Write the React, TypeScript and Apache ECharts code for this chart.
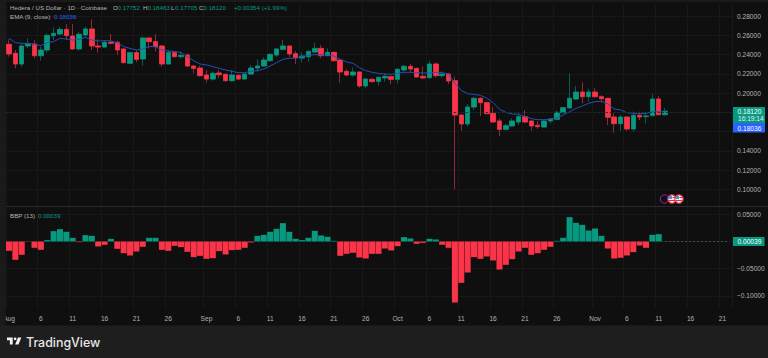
import React, { useEffect, useRef } from "react";
import * as echarts from "echarts";

const monthNames = ["Aug", "Sep", "Oct", "Nov"];
const monthLengths = [31, 30, 31, 22];
const dayLabels: string[] = [];
monthNames.forEach((m, k) => {
  for (let d = 1; d <= monthLengths[k]; d++) dayLabels.push(d === 1 ? m : String(d));
});
const tickIndexes = [0, 5, 10, 15, 20, 25, 31, 36, 41, 46, 51, 56, 61, 66, 71, 76, 81, 86, 92, 97, 102, 107, 112];

const opens = [
  .2506, .2413, .2302, .2489, .2509, .2388, .2447, .2596, .2613, .2661, .2592, .2458, .2603, .2665, .2489, .2478, .2527, .2527, .2458, .2309,
  .2420, .2354, .2572, .2534, .2489, .2302, .2420, .2378, .2395, .2281, .2260, .2188, .2146, .2209, .2195, .2129, .2184, .2146, .2198, .2260,
  .2281, .2336, .2395, .2454, .2489, .2409, .2364, .2378, .2426, .2464, .2388, .2423, .2343, .2226, .2188, .2219, .2074, .2143, .2122, .2157,
  .2171, .2143, .2240, .2278, .2257, .2174, .2160, .2302, .2181, .2198, .2129, .1773, .1680, .1856, .1946, .1901, .1790, .1711, .1624, .1659,
  .1700, .1756, .1711, .1666, .1648, .1711, .1728, .1797, .1846, .1939, .2011, .1963, .2011, .1963, .1946, .1752, .1683, .1752, .1628, .1769,
  .1756, .1766, .1939, .17752,
];
const closes = [
  .2406, .2302, .2489, .2509, .2388, .2447, .2599, .2620, .2661, .2596, .2458, .2610, .2665, .2489, .2478, .2527, .2516, .2447, .2316, .2420,
  .2350, .2572, .2534, .2482, .2302, .2420, .2378, .2392, .2281, .2257, .2181, .2146, .2205, .2191, .2129, .2188, .2146, .2198, .2260, .2281,
  .2343, .2402, .2458, .2489, .2406, .2364, .2385, .2433, .2464, .2388, .2423, .2336, .2219, .2188, .2219, .2074, .2146, .2119, .2164, .2174,
  .2143, .2247, .2278, .2250, .2167, .2157, .2302, .2181, .2198, .2126, .1773, .1680, .1856, .1946, .1901, .1787, .1700, .1624, .1662, .1711,
  .1756, .1700, .1659, .1652, .1711, .1731, .1801, .1849, .1946, .2011, .1963, .2011, .1963, .1942, .1749, .1683, .1752, .1628, .1769, .1752,
  .1763, .1939, .17752, .18120,
];
const lows = [
  .2378, .2257, .2274, .2464, .2361, .2336, .2420, .2551, .2603, .2551, .2447, .2440, .2585, .2447, .2420, .2475, .2506, .2395, .2309, .2302,
  .2319, .2285, .2464, .2430, .2274, .2299, .2371, .2361, .2274, .2205, .2171, .2108, .2129, .2153, .2119, .2119, .2136, .2143, .2188, .2222,
  .2274, .2326, .2378, .2447, .2371, .2302, .2316, .2326, .2420, .2361, .2385, .2330, .2108, .2181, .2171, .2056, .2050, .2112, .2077, .2119,
  .2091, .2101, .2205, .2212, .2160, .2146, .2153, .2160, .2160, .2094, .1002, .1607, .1652, .1825, .1763, .1780, .1697, .1555, .1617, .1652,
  .1669, .1693, .1610, .1628, .1645, .1686, .1721, .1790, .1842, .1928, .1894, .1911, .1956, .1904, .1669, .1590, .1607, .1610, .1600, .1721,
  .1686, .1763, .1773, .17705,
];
const highs = [
  .2558, .2447, .2516, .2568, .2551, .2482, .2620, .2682, .2689, .2717, .2717, .2637, .2689, .2765, .2558, .2551, .2613, .2544, .2464, .2430,
  .2447, .2585, .2579, .2613, .2499, .2447, .2430, .2430, .2413, .2292, .2285, .2240, .2222, .2240, .2205, .2240, .2198, .2205, .2292, .2350,
  .2371, .2413, .2464, .2551, .2492, .2437, .2420, .2447, .2523, .2499, .2464, .2430, .2350, .2247, .2267, .2222, .2153, .2153, .2171, .2205,
  .2181, .2257, .2292, .2302, .2264, .2274, .2336, .2316, .2226, .2212, .2171, .1780, .1887, .1963, .1956, .1911, .1859, .1738, .1680, .1738,
  .1807, .1825, .1714, .1711, .1721, .1738, .1818, .1852, .2205, .2074, .2112, .2043, .2050, .1980, .1953, .1790, .1773, .1756, .1807, .1807,
  .1801, .1991, .1970, .18463,
];
const ema = [
  .2568, .2523, .2516, .2516, .2506, .2492, .2523, .2534, .2568, .2561, .2551, .2558, .2579, .2551, .2541, .2544, .2541, .2523, .2482, .2464,
  .2447, .2458, .2482, .2482, .2447, .2437, .2430, .2423, .2378, .2336, .2302, .2292, .2274, .2257, .2240, .2226, .2212, .2212, .2226, .2233,
  .2250, .2281, .2316, .2350, .2361, .2364, .2378, .2392, .2399, .2399, .2399, .2385, .2350, .2323, .2309, .2264, .2233, .2216, .2205, .2198,
  .2195, .2205, .2216, .2216, .2212, .2209, .2209, .2216, .2212, .2198, .2101, .2029, .1994, .1987, .1977, .1946, .1901, .1832, .1801, .1783,
  .1780, .1756, .1735, .1724, .1724, .1731, .1742, .1773, .1807, .1842, .1866, .1894, .1911, .1915, .1887, .1835, .1825, .1797, .1790, .1787,
  .1790, .1807, .1807, .18036,
];
const bbp = [
  -.0172, -.0337, -.0245, -.0005, -.0116, -.0153, .0025, .0190, .0227, .0178, .0067, -.0012, .0116, .0104, -.0092, -.0061, .0049, -.0135, -.0215, -.0257,
  -.0184, -.0098, .0067, .0067, -.0153, -.0172, -.0080, -.0104, -.0190, -.0288, -.0264, -.0319, -.0306, -.0178, -.0239, -.0159, -.0153, -.0116, -.0018, .0104,
  .0122, .0178, .0233, .0337, .0178, .0049, .0025, .0067, .0196, .0110, .0086, .0012, -.0264, -.0227, -.0208, -.0294, -.0313, -.0227, -.0227, -.0129,
  -.0165, -.0086, .0080, .0055, -.0043, -.0025, .0049, .0037, -.0061, -.0116, -.1122, -.0760, -.0570, -.0288, -.0319, -.0276, -.0349, -.0515, -.0429, -.0325,
  -.0184, -.0116, -.0245, -.0215, -.0153, -.0098, .0012, .0067, .0447, .0343, .0306, .0202, .0239, .0104, -.0129, -.0313, -.0300, -.0257, -.0196, -.0074,
  -.0116, .0122, .0135, .00039,
];
const priceGridTicks = [0.1, 0.12, 0.14, 0.16, 0.18, 0.2, 0.22, 0.24, 0.26, 0.28];
const priceLabelTicks = [0.1, 0.12, 0.14, 0.2, 0.22, 0.24, 0.26, 0.28];
const bbpGridTicks = [0.05, 0, -0.05, -0.1];
const bbpLabelTicks = [0.05, -0.05, -0.1];
const lastPrice = 0.1812;
const lastBbp = 0.00039;

const UP = "#089981";
const DOWN = "#fb3449";
const UP_WICK = "#0b5a4d";
const DOWN_WICK = "#8c2a35";
const BG = "#0f0f0f";
const CHROME = "#1e1e1e";
const GRID = "#181818";
const TXT = "#b4b4b4";
const FONT = "'Liberation Sans', Arial, sans-serif";

const logoPath = "M14 6H2v6h6v9h6V6Zm12 15h-7l6-15h7l-6 15Zm-7-9a3 3 0 1 0 0-6 3 3 0 0 0 0 6Z";
echarts.graphic.registerShape("tvlogo", echarts.graphic.extendPath(logoPath, {}) as any);

const txt = (x: number, y: number, text: string, fill: string, size = 6.2) => ({
  type: "text", x, y, z: 60,
  style: { text, fill, font: `${size}px ${FONT}`, textVerticalAlign: "middle" },
});

const flag = (cx: number) => ({
  type: "group", z: 60, x: cx, y: 199,
  children: [
    { type: "circle", z: 60, shape: { cx: 0, cy: 0, r: 4.2 }, style: { fill: "#f4eeee", stroke: "#e0303f", lineWidth: 1.2 } },
    { type: "rect", z: 61, shape: { x: -3, y: -3, width: 3, height: 3 }, style: { fill: "#4a90e2" } },
    { type: "rect", z: 61, shape: { x: 0.5, y: -2, width: 3, height: 1 }, style: { fill: "#e0303f" } },
    { type: "rect", z: 61, shape: { x: -3, y: 1, width: 6, height: 1 }, style: { fill: "#e0303f" } },
  ],
});

export default function App() {
  const ref = useRef<HTMLDivElement>(null);
  useEffect(() => {
    document.body.style.margin = "0";
    document.body.style.background = BG;
    const chart = echarts.init(ref.current!, undefined, { renderer: "svg" });
    const showTick = (i: number) => tickIndexes.includes(i);
    const xBase = {
      type: "category",
      data: dayLabels,
      boundaryGap: true,
      axisLine: { show: false },
      axisTick: { show: false },
      splitLine: { show: true, interval: showTick, lineStyle: { color: GRID, width: 1 } },
    };
    const candleData = opens.map((o, i) => [o, closes[i], lows[i], highs[i]]);
    const bodyData = opens.map((o, i) => [o, closes[i], Math.min(o, closes[i]), Math.max(o, closes[i])]);
    chart.setOption({
      animation: false,
      backgroundColor: BG,
      textStyle: { fontFamily: FONT },
      grid: [
        { left: 5.82, width: 726.18, top: 4, height: 202 },
        { left: 5.82, width: 726.18, top: 207, height: 101 },
      ],
      xAxis: [
        { ...xBase, gridIndex: 0, axisLabel: { show: false } },
        {
          ...xBase, gridIndex: 1,
          axisLabel: { show: true, interval: showTick, color: TXT, fontSize: 6.6, margin: 7, fontFamily: FONT, hideOverlap: false },
        },
      ],
      yAxis: [
        {
          type: "value", gridIndex: 0, position: "right", min: 0.08288, max: 0.29245, scale: true,
          axisLine: { show: false },
          axisTick: { show: false, customValues: priceGridTicks },
          splitLine: { show: true, lineStyle: { color: GRID, width: 1 } },
          axisLabel: {
            customValues: priceLabelTicks, color: TXT, fontSize: 6.6, margin: 5, fontFamily: FONT,
            showMinLabel: true, showMaxLabel: true,
            formatter: (v: number) => v.toFixed(5),
          },
        },
        {
          type: "value", gridIndex: 1, position: "right", min: -0.1223, max: 0.0634, scale: true,
          axisLine: { show: false },
          axisTick: { show: false, customValues: bbpGridTicks },
          splitLine: { show: true, lineStyle: { color: GRID, width: 1 } },
          axisLabel: {
            customValues: bbpLabelTicks, color: TXT, fontSize: 6.6, margin: 5, fontFamily: FONT,
            formatter: (v: number) => v.toFixed(5).replace("-", "\u2212"),
          },
        },
      ],
      series: [
        {
          name: "wicks", type: "candlestick", xAxisIndex: 0, yAxisIndex: 0, z: 2, barWidth: 5, data: candleData,
          itemStyle: { color: UP_WICK, color0: DOWN_WICK, borderColor: UP_WICK, borderColor0: DOWN_WICK, borderWidth: 1 },
          markLine: {
            silent: true, symbol: "none", label: { show: false },
            lineStyle: { color: "#143029", type: [2, 2], width: 1 },
            data: [{ yAxis: lastPrice }],
          },
        },
        {
          name: "bodies", type: "candlestick", xAxisIndex: 0, yAxisIndex: 0, z: 3, barWidth: 5, data: bodyData,
          itemStyle: { color: UP, color0: DOWN, borderColor: UP, borderColor0: DOWN, borderWidth: 0.5 },
        },
        {
          name: "EMA", type: "line", xAxisIndex: 0, yAxisIndex: 0, z: 4, data: ema, symbol: "none",
          lineStyle: { color: "#2450b8", width: 1 },
        },
        {
          name: "BBP", type: "bar", xAxisIndex: 1, yAxisIndex: 1, z: 3, data: bbp, barWidth: 6,
          itemStyle: { color: (p: any) => (p.value >= 0 ? UP : DOWN) },
          markLine: {
            silent: true, symbol: "none", label: { show: false },
            lineStyle: { color: "#4a4a4a", type: [2, 2], width: 1 },
            data: [[{ coord: [103, lastBbp] }, { coord: [113, lastBbp] }]],
          },
        },
      ],
      graphic: [
        { type: "rect", z: 50, shape: { x: 0, y: 0, width: 5.82, height: 326 }, style: { fill: "#1a1a1a" } },
        { type: "rect", z: 50, shape: { x: 0, y: 0, width: 768, height: 2 }, style: { fill: "#1a1a1a" } },
        { type: "rect", z: 50, shape: { x: 5.82, y: 206, width: 762, height: 1 }, style: { fill: "#2a2a2a" } },
        { type: "rect", z: 50, shape: { x: 0, y: 325.5, width: 768, height: 33 }, style: { fill: CHROME } },
        txt(10, 7.5, "Hedera / US Dollar \u00b7 1D \u00b7 Coinbase", TXT),
        txt(113, 7.5, "O", TXT), txt(117.5, 7.5, "0.17752", UP),
        txt(143, 7.5, "H", TXT), txt(147.5, 7.5, "0.18463", UP),
        txt(171, 7.5, "L", TXT), txt(175, 7.5, "0.17705", UP),
        txt(199, 7.5, "C", TXT), txt(203.5, 7.5, "0.18120", UP),
        txt(234, 7.5, "+0.00354 (+1.99%)", UP),
        txt(10, 16, "EMA (9, close)", TXT), txt(54, 16, "0.18036", "#2962ff"),
        txt(10, 215, "BBP (13)", TXT), txt(38, 215, "0.00039", UP),
        { type: "rect", z: 55, shape: { x: 733, y: 107, width: 32, height: 16 }, style: { fill: UP } },
        { type: "rect", z: 55, shape: { x: 733, y: 123, width: 32, height: 9.5 }, style: { fill: "#2962ff" } },
        { type: "rect", z: 55, shape: { x: 733, y: 237, width: 31.5, height: 9 }, style: { fill: UP } },
        txt(737.5, 111.5, "0.18120", "#ffffff", 6.6), txt(738, 118.5, "16:19:14", "#e0f0ec", 6.6),
        txt(737.5, 128, "0.18036", "#ffffff", 6.6), txt(737.5, 241.5, "0.00039", "#ffffff", 6.6),
        { type: "circle", z: 58, x: 664.5, y: 199, shape: { cx: 0, cy: 0, r: 4.2 }, style: { fill: "none", stroke: "#9c27b0", lineWidth: 1 } },
        flag(672), flag(679),
        { type: "tvlogo", z: 60, x: 6, y: 334.5, scaleX: 0.48, scaleY: 0.48, style: { fill: "#f0f0f0" } },
        {
          type: "text", z: 60, x: 26, y: 342,
          style: { text: "TradingView", fill: "#e8e8e8", font: `500 12.4px Inter, ${FONT}`, textVerticalAlign: "middle" },
        },
      ],
    });
    return () => chart.dispose();
  }, []);
  return <div ref={ref} style={{ width: 768, height: 358 }} />;
}
